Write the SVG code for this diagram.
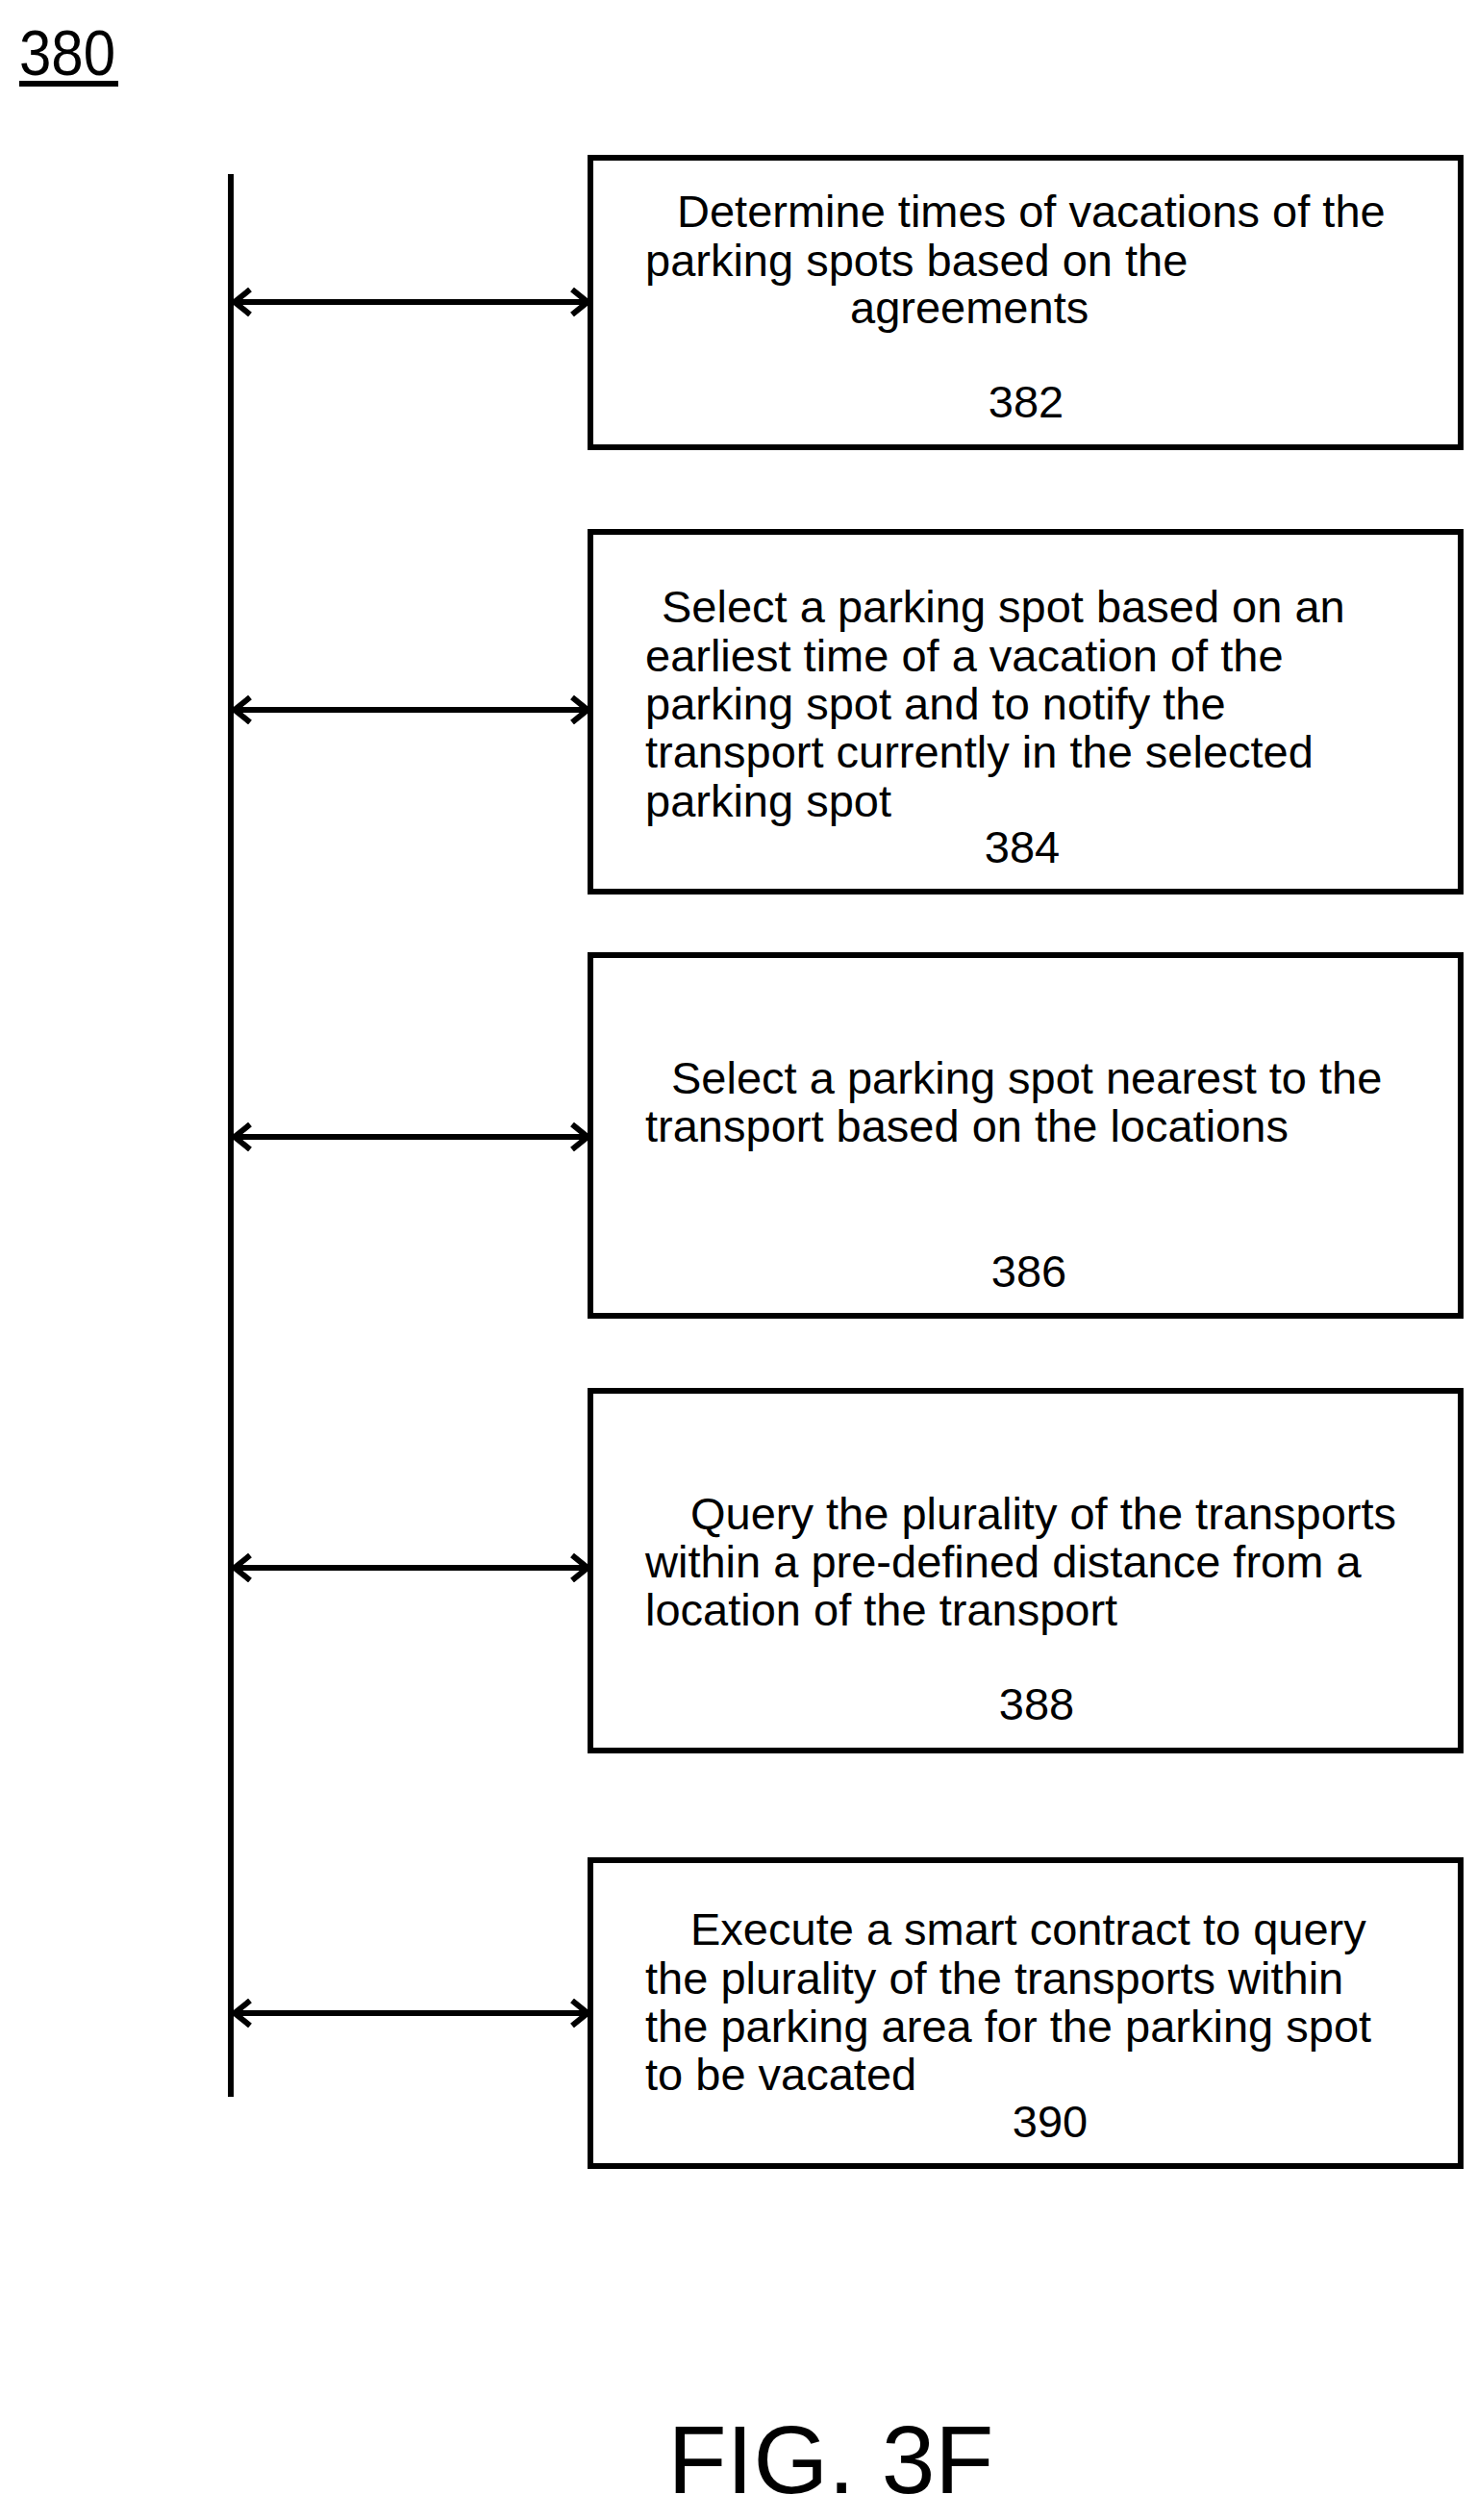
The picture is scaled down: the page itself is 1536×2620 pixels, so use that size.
<svg xmlns="http://www.w3.org/2000/svg" width="1536" height="2620" viewBox="0 0 1536 2620">
<style>
.b{fill:#fff;stroke:#000;stroke-width:6}
.t{font-family:"Liberation Sans",Arial,sans-serif;font-size:47px;fill:#000}
.c{text-anchor:middle}
.l{stroke:#000;stroke-width:6;fill:none}
</style>
<defs>
<marker id="a" viewBox="0 0 24 30" refX="22" refY="15" markerWidth="24" markerHeight="30" markerUnits="userSpaceOnUse" orient="auto-start-reverse">
<path d="M5 2 L21 15 L5 28" fill="none" stroke="#000" stroke-width="6"/>
</marker>
</defs>
<rect width="1536" height="2620" fill="#fff"/>
<g id="title">
<text x="20" y="78" style="font-family:'Liberation Sans Narrow','Liberation Sans',sans-serif;font-size:66px" textLength="100" lengthAdjust="spacingAndGlyphs">380</text>
<line x1="20" y1="87" x2="123" y2="87" class="l" stroke-width="4"/>
</g>
<g id="connectors">
<line x1="240" y1="181" x2="240" y2="2180" class="l"/>
<line x1="243" y1="314" x2="612" y2="314" class="l" marker-start="url(#a)" marker-end="url(#a)"/>
<line x1="243" y1="738" x2="612" y2="738" class="l" marker-start="url(#a)" marker-end="url(#a)"/>
<line x1="243" y1="1182" x2="612" y2="1182" class="l" marker-start="url(#a)" marker-end="url(#a)"/>
<line x1="243" y1="1630" x2="612" y2="1630" class="l" marker-start="url(#a)" marker-end="url(#a)"/>
<line x1="243" y1="2093" x2="612" y2="2093" class="l" marker-start="url(#a)" marker-end="url(#a)"/>
</g>
<g id="n382">
<rect x="614" y="164" width="905" height="301" class="b"/>
<text class="t" x="704" y="236">Determine times of vacations of the</text>
<text class="t" x="671" y="287">parking spots based on the</text>
<text class="t" x="884" y="336">agreements</text>
<text class="t c" x="1067" y="434">382</text>
</g>
<g id="n384">
<rect x="614" y="553" width="905" height="374" class="b"/>
<text class="t" x="688" y="647">Select a parking spot based on an</text>
<text class="t" x="671" y="698">earliest time of a vacation of the</text>
<text class="t" x="671" y="748">parking spot and to notify the</text>
<text class="t" x="671" y="798">transport currently in the selected</text>
<text class="t" x="671" y="849">parking spot</text>
<text class="t c" x="1063" y="897">384</text>
</g>
<g id="n386">
<rect x="614" y="993" width="905" height="375" class="b"/>
<text class="t" x="698" y="1137">Select a parking spot nearest to the</text>
<text class="t" x="671" y="1187">transport based on the locations</text>
<text class="t c" x="1070" y="1338">386</text>
</g>
<g id="n388">
<rect x="614" y="1446" width="905" height="374" class="b"/>
<text class="t" x="718" y="1590">Query the plurality of the transports</text>
<text class="t" x="671" y="1640">within a pre-defined distance from a</text>
<text class="t" x="671" y="1690">location of the transport</text>
<text class="t c" x="1078" y="1788">388</text>
</g>
<g id="n390">
<rect x="614" y="1934" width="905" height="318" class="b"/>
<text class="t" x="718" y="2022">Execute a smart contract to query</text>
<text class="t" x="671" y="2073">the plurality of the transports within</text>
<text class="t" x="671" y="2123">the parking area for the parking spot</text>
<text class="t" x="671" y="2173">to be vacated</text>
<text class="t c" x="1092" y="2222">390</text>
</g>
<g id="caption">
<text class="c" x="864" y="2592" style="font-family:'Liberation Sans',Arial,sans-serif;font-size:100px">FIG. 3F</text>
</g>
</svg>
